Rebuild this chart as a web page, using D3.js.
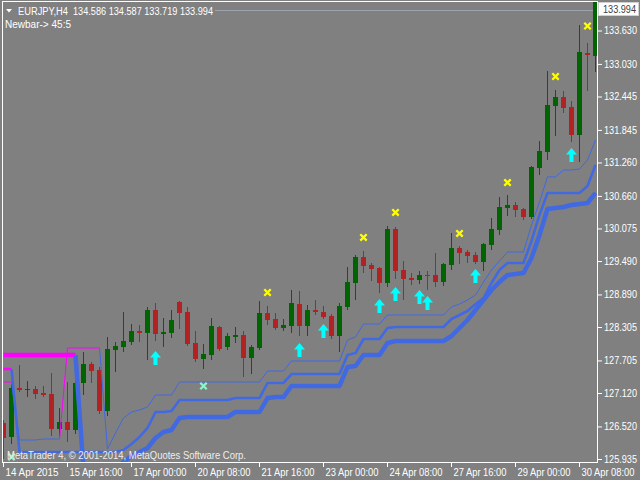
<!DOCTYPE html>
<html><head><meta charset="utf-8">
<script src="https://cdn.jsdelivr.net/npm/d3@7"></script>
<style>
html,body{margin:0;padding:0;background:#808080;}
svg{display:block;}
text{font-family:"Liberation Sans",Arial,sans-serif;}
</style></head><body>
<svg id="c" width="640" height="480"></svg>
<script>
// ---------- DATA ----------
const opens = [126.581,126.330,127.210,127.174,127.192,127.120,127.102,126.474,126.599,126.456,
127.300,127.641,127.533,126.797,127.892,127.946,128.036,128.234,128.198,128.611,
128.180,128.198,128.754,128.575,128.018,127.731,127.803,128.305,127.946,128.126,
128.162,127.749,127.928,128.557,128.449,128.288,128.323,128.718,128.323,128.611,
128.575,128.503,128.144,128.665,129.096,129.562,129.419,129.365,129.096,130.065,
129.329,129.185,129.149,129.239,129.239,129.114,129.419,129.724,129.652,129.598,
129.473,129.778,130.047,130.442,130.496,130.424,130.281,131.161,131.448,132.274,
132.436,132.256,131.753,133.226,133.172];
const highs = [126.635,127.282,127.623,127.336,127.246,127.246,127.479,126.851,127.318,127.372,
127.856,127.677,127.587,128.126,128.036,128.575,128.359,128.341,128.665,128.736,
128.467,128.611,128.772,128.665,128.234,128.000,128.467,128.323,128.198,128.305,
128.234,127.982,128.772,128.683,128.557,128.449,128.970,128.952,128.700,128.790,
128.683,128.539,128.736,129.383,129.598,129.670,129.455,129.383,130.119,130.101,
129.491,129.275,129.311,129.311,129.634,129.455,129.993,129.760,129.688,129.652,
129.814,130.263,130.640,130.676,130.550,130.442,131.197,131.646,132.903,132.561,
132.543,132.364,133.729,133.405,134.587];
const lows = [125.953,126.222,127.156,127.066,127.030,127.066,126.366,126.348,126.258,126.402,
127.102,127.318,126.761,126.725,127.515,127.874,128.000,128.054,127.731,128.072,
127.964,128.126,128.288,127.982,127.695,127.569,127.731,127.892,127.910,128.036,
127.425,127.479,127.910,128.359,128.270,128.252,128.216,128.162,128.162,128.539,
128.467,128.108,127.874,128.629,128.808,129.293,129.149,128.934,129.042,129.185,
128.808,129.078,129.096,128.988,129.042,129.060,129.347,129.455,129.473,129.455,
129.329,129.706,129.976,130.317,130.299,130.245,130.263,131.053,131.322,131.753,
132.166,131.646,131.286,132.561,132.903];
const closes = [126.312,127.210,127.174,127.192,127.102,127.084,126.474,126.599,126.456,127.300,
127.641,127.515,126.797,127.910,127.964,128.054,128.234,128.198,128.611,128.180,
128.216,128.431,128.557,128.000,127.731,127.821,128.323,127.910,128.144,128.162,
127.749,127.946,128.557,128.431,128.288,128.341,128.736,128.323,128.611,128.575,
128.485,128.144,128.683,129.114,129.562,129.401,129.347,129.096,130.065,129.311,
129.167,129.149,129.239,129.221,129.114,129.437,129.724,129.634,129.580,129.473,
129.796,130.065,130.460,130.496,130.407,130.281,131.179,131.466,132.292,132.436,
132.238,131.753,133.244,133.190,134.586];

const lineThin = [127.318,127.318,126.276,126.276,126.276,126.294,126.294,126.294,127.928,127.928,
127.928,127.928,127.928,126.114,126.402,126.671,126.779,126.815,126.869,127.084,
127.084,127.084,127.318,127.318,127.318,127.318,127.318,127.318,127.318,127.318,
127.318,127.318,127.318,127.515,127.515,127.515,127.695,127.695,127.695,127.695,
127.695,127.695,127.695,128.072,128.126,128.359,128.359,128.359,128.521,128.521,
128.521,128.521,128.521,128.521,128.521,128.521,128.665,128.718,128.790,128.880,
129.114,129.329,129.491,129.652,129.652,129.652,130.137,130.550,131.001,131.001,
131.125,131.125,131.143,131.305,131.664];
const lineMid = [127.551,127.551,126.061,126.061,126.061,126.061,126.061,126.061,126.061,126.061,
126.061,126.061,126.061,126.061,126.061,126.097,126.204,126.330,126.492,126.779,
126.779,126.797,126.994,126.994,126.994,126.994,126.994,126.994,126.994,127.030,
127.030,127.030,127.030,127.300,127.300,127.300,127.461,127.461,127.461,127.461,
127.461,127.461,127.461,127.803,127.838,128.090,128.090,128.090,128.288,128.305,
128.305,128.305,128.305,128.305,128.305,128.305,128.449,128.521,128.593,128.718,
128.826,129.096,129.329,129.455,129.455,129.455,129.850,130.317,130.712,130.712,
130.712,130.712,130.712,130.838,131.215];
const lineThick = [127.803,127.803,127.803,127.803,127.803,127.803,127.803,127.803,127.803,127.803,
125.737,125.737,125.737,125.737,125.737,125.881,125.989,126.061,126.133,126.312,
126.420,126.456,126.671,126.689,126.689,126.689,126.689,126.689,126.689,126.779,
126.779,126.779,126.779,127.030,127.048,127.048,127.246,127.246,127.246,127.246,
127.246,127.246,127.246,127.587,127.605,127.803,127.803,127.803,128.018,128.054,
128.054,128.054,128.054,128.054,128.054,128.054,128.144,128.288,128.431,128.611,
128.790,128.970,129.114,129.239,129.257,129.275,129.544,129.957,130.424,130.442,
130.460,130.496,130.514,130.532,130.712];
const thinRuns = [[0,1,"down"],[2,7,"up"],[8,12,"down"],[13,74,"up"]];
const midRuns = [[0,1,"down"],[2,74,"up"]];
const thickRuns = [[0,9,"down"],[10,74,"up"]];

const arrowBars = [19,37,40,47,49,52,53,59,71];
const arrowPrices = [127.874,128.018,128.359,128.808,129.024,128.970,128.862,129.347,131.520];
const crossBars = [33,45,49,57,63,69,73];
const crossPrices = [128.925,129.913,130.362,129.985,130.900,132.804,133.711];
const mintBars = [1,25];
const mintPrices = [125.971,127.246];

const xTickBars = [0,8,16,24,32,40,48,56,64,72];
const xTickLabels = ["14 Apr 2015","15 Apr 16:00","17 Apr 00:00","20 Apr 08:00","21 Apr 16:00",
  "23 Apr 00:00","24 Apr 08:00","27 Apr 16:00","29 Apr 00:00","30 Apr 08:00"];
const yTickValues = [133.630,133.030,132.445,131.845,131.260,130.660,130.075,129.490,128.890,128.305,127.705,127.120,126.520,125.935];
const lastPrice = 133.994;
const headerSymbol = "EURJPY,H4";
const headerPrices = "134.586 134.587 133.719 133.994";
const subHeader = "Newbar-> 45:5";
const copyright = "MetaTrader 4, \u00A9 2001-2014, MetaQuotes Software Corp.";

// ---------- CHART ----------
const svg = d3.select("#c");
svg.append("rect").attr("width",640).attr("height",480).attr("fill","#808080");

const x = d3.scaleLinear().domain([0, 74]).range([3, 595]);
const y = d3.scaleLinear().domain([125.935, 133.630]).range([459, 30.5]);

svg.append("defs").append("clipPath").attr("id","plot")
  .append("rect").attr("x",3).attr("y",2).attr("width",594).attr("height",460);

const plot = svg.append("g").attr("clip-path","url(#plot)");

// bid line
plot.append("line").attr("x1",215).attr("x2",597)
  .attr("y1",Math.round(y(lastPrice))+0.5).attr("y2",Math.round(y(lastPrice))+0.5)
  .attr("stroke","#a4acb8").attr("stroke-width",1).attr("opacity",0.8);

// candles
const idx = d3.range(opens.length);
const bull = "#006400", bear = "#B22222";
const cg = plot.append("g");
idx.forEach(i => {
  const up = closes[i] >= opens[i];
  const col = up ? bull : bear;
  const cx = x(i);
  cg.append("line").attr("x1",cx+0.5).attr("x2",cx+0.5)
    .attr("y1",Math.round(y(highs[i]))).attr("y2",Math.round(y(lows[i]))+1)
    .attr("stroke",col).attr("stroke-width",1);
  const top = Math.round(y(Math.max(opens[i],closes[i])));
  const bot = Math.round(y(Math.min(opens[i],closes[i])));
  cg.append("rect").attr("x",cx-2).attr("width",5)
    .attr("y",top).attr("height",Math.max(1,bot-top))
    .attr("fill",col);
});

// indicator lines
const lineGen = d3.line().x(d => x(d[0])+0.5).y(d => y(d[1]));
const colUp = "#4169E1", colDown = "#FF00FF";
function drawLine(vals, runs, w){
  runs.forEach(([a,b,t]) => {
    const pts = d3.range(Math.max(0,a-1), b+1).map(i => [i, vals[i]]);
    plot.append("path").attr("d", lineGen(pts)).attr("fill","none")
      .attr("stroke", t === "up" ? colUp : colDown).attr("stroke-width", w)
      .attr("stroke-linejoin","round");
  });
}
drawLine(lineThick, thickRuns, 4.5);
drawLine(lineMid, midRuns, 2.6);
drawLine(lineThin, thinRuns, 1);

// arrows
arrowBars.forEach((b,k) => {
  const cx = x(b)+0.5, ty = y(arrowPrices[k]);
  plot.append("path")
    .attr("d", `M${cx},${ty} L${cx+5.5},${ty+6.5} L${cx+2},${ty+6.5} L${cx+2},${ty+14} L${cx-2},${ty+14} L${cx-2},${ty+6.5} L${cx-5.5},${ty+6.5} Z`)
    .attr("fill","#00FFFF");
});
// crosses
function cross(b, p, col){
  const cx = x(b)+0.5, cy = y(p);
  plot.append("path")
    .attr("d", `M${cx-3.2},${cy-3.2} L${cx+3.2},${cy+3.2} M${cx+3.2},${cy-3.2} L${cx-3.2},${cy+3.2}`)
    .attr("stroke",col).attr("stroke-width",2.3).attr("fill","none");
}
crossBars.forEach((b,k) => cross(b, crossPrices[k], "#FFFF00"));
mintBars.forEach((b,k) => cross(b, mintPrices[k], "#8CF5CC"));

// frame
svg.append("rect").attr("x",2.5).attr("y",1.5).attr("width",595).attr("height",461)
  .attr("fill","none").attr("stroke","#ffffff").attr("stroke-width",1);

// y axis
const yAxis = svg.append("g").attr("transform","translate(598,0)")
  .call(d3.axisRight(y).tickValues(yTickValues).tickFormat(d3.format(".3f")).tickSize(4).tickPadding(2));
yAxis.select(".domain").remove();
yAxis.selectAll("line").attr("stroke","#ffffff");
yAxis.selectAll("text").attr("fill","#ffffff").style("font-size","10px")
  .attr("textLength",33).attr("lengthAdjust","spacingAndGlyphs");

// x axis
const xAxis = svg.append("g").attr("transform","translate(0,463)")
  .call(d3.axisBottom(x).tickValues(xTickBars).tickFormat((d,i) => xTickLabels[i]).tickSize(4).tickPadding(2));
xAxis.select(".domain").remove();
xAxis.selectAll("line").attr("stroke","#ffffff");
xAxis.selectAll("text").attr("fill","#ffffff").style("font-size","10px")
  .attr("text-anchor","start").attr("dx","2")
  .attr("textLength",53).attr("lengthAdjust","spacingAndGlyphs");

// current price label
svg.append("rect").attr("x",598.5).attr("y",2.5).attr("width",40).attr("height",13)
  .attr("fill","#ffffff").attr("stroke","#d0d0d0");
svg.append("text").attr("x",603).attr("y",13).text(d3.format(".3f")(lastPrice))
  .attr("fill","#404040").style("font-size","10px")
  .attr("textLength",33).attr("lengthAdjust","spacingAndGlyphs");

// header
svg.append("path").attr("d","M6,9 L12,9 L9,12.5 Z").attr("fill","#ffffff");
svg.append("text").attr("x",18).attr("y",14.5).text(headerSymbol)
  .attr("fill","#ffffff").style("font-size","10px")
  .attr("textLength",50).attr("lengthAdjust","spacingAndGlyphs");
svg.append("text").attr("x",73).attr("y",14.5).text(headerPrices)
  .attr("fill","#ffffff").style("font-size","10px")
  .attr("textLength",140).attr("lengthAdjust","spacingAndGlyphs");
svg.append("text").attr("x",5).attr("y",27.5).text(subHeader)
  .attr("fill","#ffffff").style("font-size","10px")
  .attr("textLength",66).attr("lengthAdjust","spacingAndGlyphs");
svg.append("text").attr("x",7).attr("y",459).text(copyright)
  .attr("fill","#eeeeee").style("font-size","10.5px")
  .attr("textLength",239).attr("lengthAdjust","spacingAndGlyphs");
</script>
</body></html>
